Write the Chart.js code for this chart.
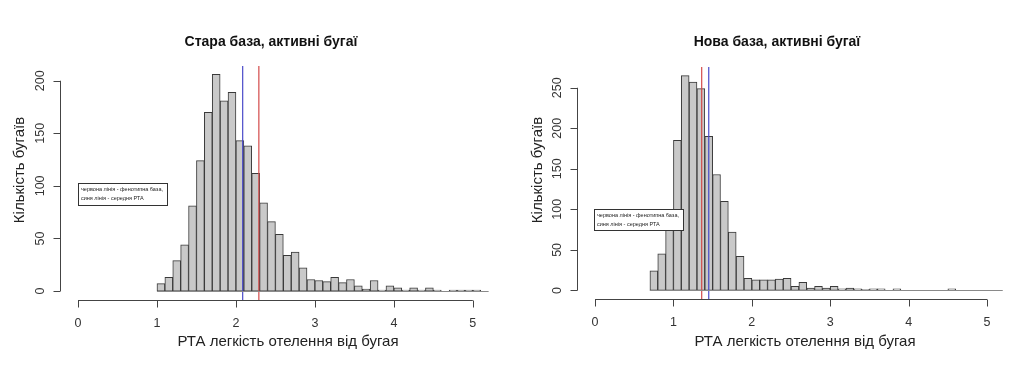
<!DOCTYPE html>
<html>
<head>
<meta charset="utf-8">
<script src="https://cdn.jsdelivr.net/npm/chart.js@4.4.1/dist/chart.umd.min.js"></script>
<style>
  body { margin: 0; background: #fff; }
  .wrap { display: flex; width: 1024px; height: 366px; }
  canvas { display: block; }
</style>
</head>
<body>
<div class="wrap">
  <canvas id="oldChart" width="512" height="366"></canvas>
  <canvas id="newChart" width="512" height="366"></canvas>
</div>
<script>
// histogram breaks: first break and bin width
const binWidth = 0.1;
const oldStart = 1.0;
const newStart = 0.7;

// counts per bin
const oldCounts = [7, 13, 29, 44, 81, 124, 170, 206, 181, 189, 143, 138, 112, 84, 66, 54, 34, 37, 22, 11,
  10, 9, 13, 8, 11, 5, 2, 10, 1, 5, 3, 1, 3, 1, 3, 1, 0, 1, 1, 1, 1, 0];
const newCounts = [24, 45, 100, 185, 265, 257, 249, 190, 143, 110, 72, 42, 15, 13, 13, 13, 14, 15, 5, 10,
  3, 5, 3, 5, 2, 3, 2, 1, 2, 2, 0, 2, 0, 0, 0, 0, 0, 0, 2, 0, 0, 0, 0, 0, 0];

// vertical lines: red = phenotype base, blue = mean PTA
const oldRed = 2.29, oldBlue = 2.085;
const newRed = 1.36, newBlue = 1.45;

const xTicks = [0, 1, 2, 3, 4, 5];
const oldYTicks = [0, 50, 100, 150, 200];
const newYTicks = [0, 50, 100, 150, 200, 250];

const titles = ['Стара база, активні бугаї', 'Нова база, активні бугаї'];
const xTitle = 'РТА легкість отелення від бугая';
const yTitle = 'Кількість бугаїв';
const legendLines = ['червона лінія - фенотипна база,', 'синя лінія - середня РТА'];

const FONT = '"Liberation Sans", Arial, sans-serif';

function toBars(start, counts) {
  return counts.map((c, i) => ({ x: +(start + i * binWidth + binWidth / 2).toFixed(3), y: c }));
}

// R style axes, title and legend box
const rLook = {
  id: 'rLook',
  afterDatasetsDraw(chart, args, o) {
    const {ctx, chartArea, scales: {x, y}} = chart;
    ctx.save();
    // empty bins show as a flat line along the base, as in R
    ctx.strokeStyle = '#8a8a8a';
    ctx.lineWidth = 1;
    const yb = Math.round(y.getPixelForValue(0)) + 0.5;
    ctx.beginPath();
    ctx.moveTo(x.getPixelForValue(o.start), yb);
    ctx.lineTo(x.getPixelForValue(o.start + o.count * binWidth), yb);
    ctx.stroke();
    // legend box
    ctx.fillStyle = '#fff';
    ctx.strokeStyle = '#333';
    ctx.fillRect(o.legend.x, o.legend.y, o.legend.w, o.legend.h);
    ctx.strokeRect(o.legend.x + 0.5, o.legend.y + 0.5, o.legend.w, o.legend.h);
    ctx.fillStyle = '#222';
    ctx.font = '5.5px ' + FONT;
    ctx.textBaseline = 'middle';
    ctx.fillText(legendLines[0], o.legend.x + 3, o.legend.y + 6.5);
    ctx.fillText(legendLines[1], o.legend.x + 3, o.legend.y + 15);
    ctx.restore();
  },
  afterDraw(chart, args, o) {
    const {ctx, chartArea, scales: {x, y}} = chart;
    ctx.save();
    ctx.strokeStyle = '#444';
    ctx.fillStyle = '#333';
    ctx.lineWidth = 1;

    // x axis
    const xb = Math.round(chartArea.bottom) + 0.5;
    ctx.beginPath();
    ctx.moveTo(x.getPixelForValue(xTicks[0]), xb);
    ctx.lineTo(x.getPixelForValue(xTicks[xTicks.length - 1]), xb);
    xTicks.forEach(t => {
      const px = Math.round(x.getPixelForValue(t)) + 0.5;
      ctx.moveTo(px, xb);
      ctx.lineTo(px, xb + 7);
    });
    ctx.stroke();
    ctx.font = '12.5px ' + FONT;
    ctx.textAlign = 'center';
    ctx.textBaseline = 'middle';
    xTicks.forEach(t => ctx.fillText(String(t), x.getPixelForValue(t), xb + 23));

    // y axis
    const yl = Math.round(chartArea.left) + 0.5;
    const yt = o.yTicks;
    ctx.beginPath();
    ctx.moveTo(yl, y.getPixelForValue(yt[0]));
    ctx.lineTo(yl, y.getPixelForValue(yt[yt.length - 1]));
    yt.forEach(t => {
      const py = Math.round(y.getPixelForValue(t)) + 0.5;
      ctx.moveTo(yl, py);
      ctx.lineTo(yl - 7, py);
    });
    ctx.stroke();
    yt.forEach(t => {
      ctx.save();
      ctx.translate(yl - 20, y.getPixelForValue(t));
      ctx.rotate(-Math.PI / 2);
      ctx.fillText(String(t), 0, 0);
      ctx.restore();
    });

    // axis titles
    ctx.font = '15px ' + FONT;
    ctx.fillStyle = '#222';
    ctx.fillText(xTitle, o.xTitleX, 342);
    ctx.save();
    ctx.translate(o.yTitleX, 170);
    ctx.rotate(-Math.PI / 2);
    ctx.fillText(yTitle, 0, 0);
    ctx.restore();

    // main title
    ctx.font = 'bold 14px ' + FONT;
    ctx.fillStyle = '#111';
    ctx.fillText(o.title, o.titleX, 42);
    ctx.restore();
  }
};

function histChart(id, start, counts, red, blue, opts) {
  return new Chart(document.getElementById(id), {
    type: 'bar',
    data: {
      datasets: [
        {
          data: toBars(start, counts),
          backgroundColor: '#c9c9c9',
          borderColor: '#3a3a3a',
          borderWidth: 1,
          borderSkipped: false,
          barPercentage: 1,
          categoryPercentage: 1,
          order: 2
        },
        {
          type: 'line',
          data: [{x: blue, y: opts.yMin}, {x: blue, y: opts.yMax}],
          borderColor: 'rgba(70, 70, 200, 0.9)',
          borderWidth: 1.3,
          pointRadius: 0,
          order: 1
        },
        {
          type: 'line',
          data: [{x: red, y: opts.yMin}, {x: red, y: opts.yMax}],
          borderColor: 'rgba(210, 70, 70, 0.9)',
          borderWidth: 1.3,
          pointRadius: 0,
          order: 1
        }
      ]
    },
    options: {
      responsive: false,
      animation: false,
      layout: { padding: opts.padding },
      scales: {
        x: { type: 'linear', offset: false, min: opts.xMin, max: opts.xMax, display: false },
        y: { min: opts.yMin, max: opts.yMax, display: false }
      },
      plugins: {
        legend: { display: false },
        tooltip: { enabled: false },
        rLook: Object.assign({ start: start, count: counts.length }, opts.look)
      }
    },
    plugins: [rLook]
  });
}

histChart('oldChart', oldStart, oldCounts, oldRed, oldBlue, {
  xMin: -0.228, xMax: 5.42, yMin: -8.5, yMax: 214,
  padding: { left: 60, right: 6, top: 66, bottom: 66 },
  look: {
    yTicks: oldYTicks, title: titles[0], titleX: 271, xTitleX: 288, yTitleX: 20,
    legend: { x: 78, y: 183, w: 89, h: 22 }
  }
});

histChart('newChart', newStart, newCounts, newRed, newBlue, {
  xMin: -0.23, xMax: 5.42, yMin: -10.6, yMax: 275.6,
  padding: { left: 65, right: 4, top: 67, bottom: 67 },
  look: {
    yTicks: newYTicks, title: titles[1], titleX: 265, xTitleX: 293, yTitleX: 26,
    legend: { x: 82, y: 209, w: 89, h: 21 }
  }
});
</script>
</body>
</html>
